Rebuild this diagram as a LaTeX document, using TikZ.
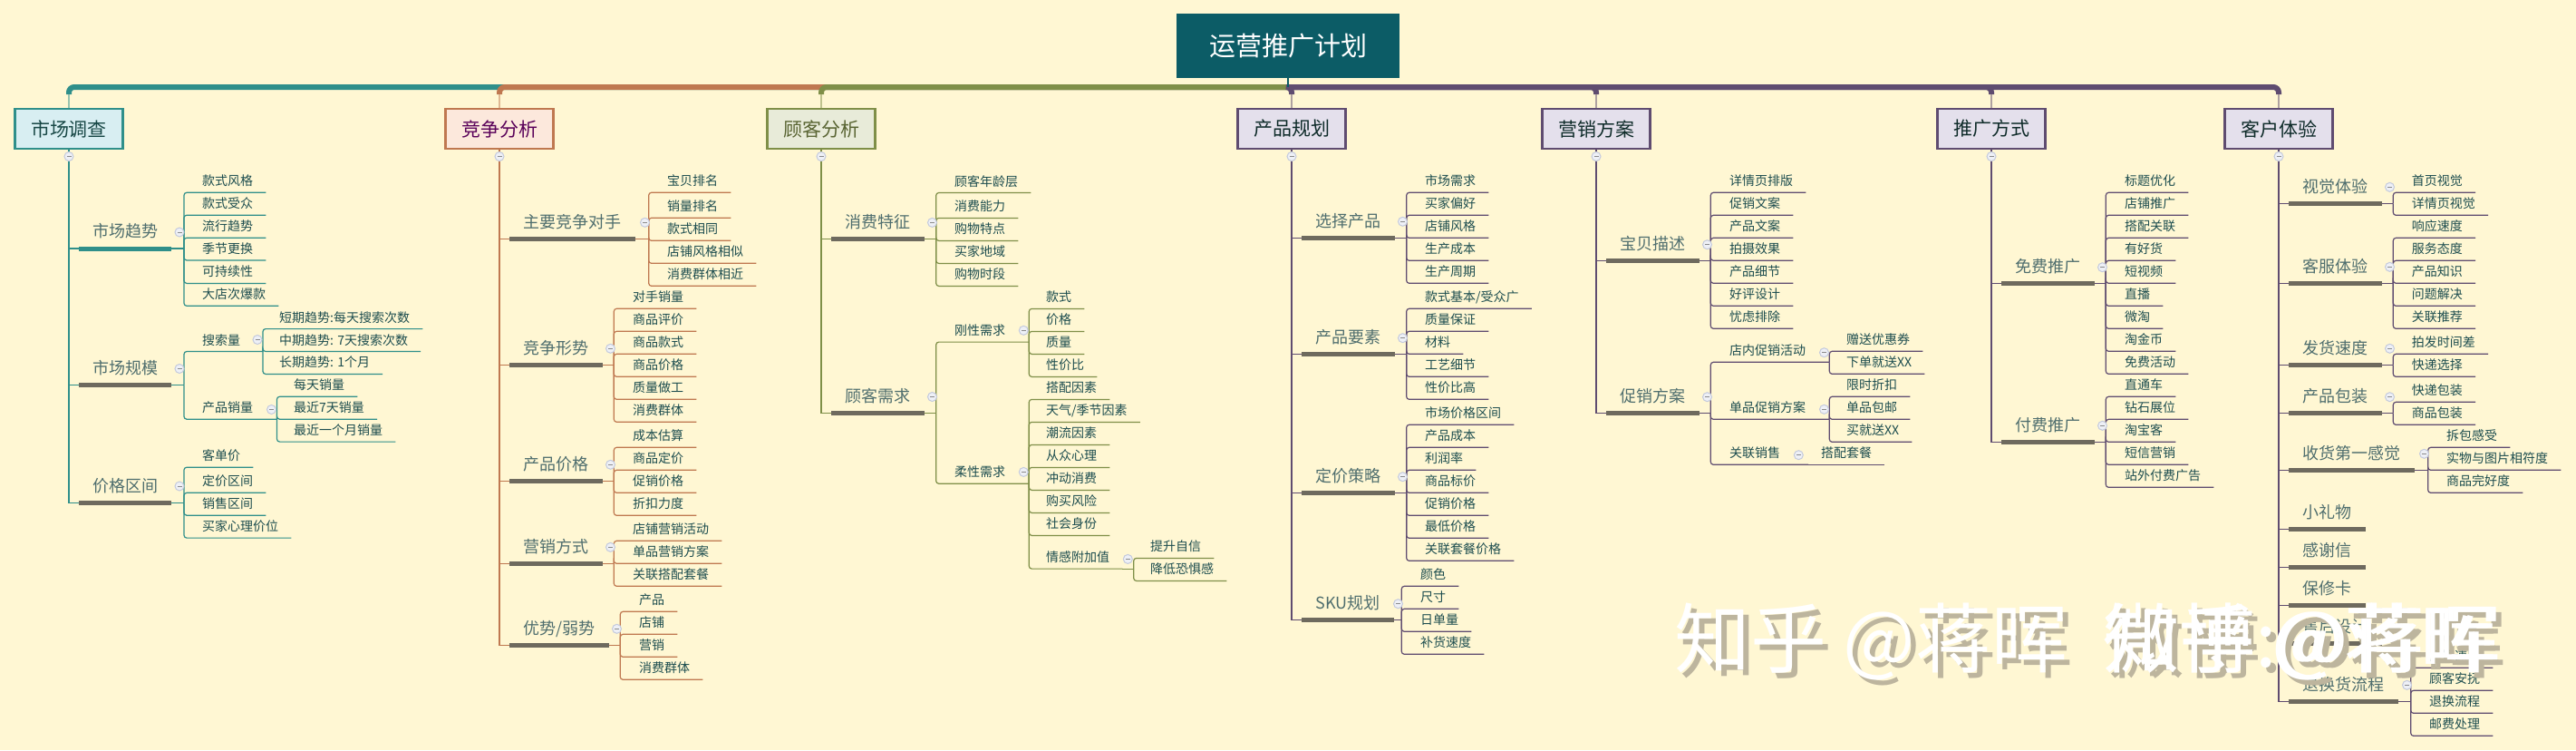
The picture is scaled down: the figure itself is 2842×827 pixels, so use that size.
\documentclass[tikz,border=0pt]{standalone}
\usepackage{fontspec}
\setmainfont{Noto Sans CJK SC}

\definecolor{paper}{HTML}{FFF7D3}
\definecolor{rootfill}{HTML}{0C5C66}
\definecolor{leaftext}{HTML}{1D4D4F}
\definecolor{midtext}{HTML}{4F6E6E}
\definecolor{barcol}{HTML}{6E6A5E}
\definecolor{cteal}{HTML}{2F8F8A}
\definecolor{corange}{HTML}{BF7850}
\definecolor{cgreen}{HTML}{7F8F48}
\definecolor{cpurple}{HTML}{5F4C70}
\definecolor{fteal}{HTML}{D8EEF2}
\definecolor{forange}{HTML}{FCE8DC}
\definecolor{fgreen}{HTML}{E8EBD9}
\definecolor{fpurple}{HTML}{E4E0EC}
\definecolor{foldline}{HTML}{C4CADD}
\definecolor{foldfill}{HTML}{EEF0F6}
\definecolor{wshade}{HTML}{BDB59E}

\tikzset{
    rootnode/.style={fill=rootfill, text=white, minimum width=246pt, minimum height=71pt, font=\fontsize{29}{32}\selectfont},
    topnode/.style={draw, line width=2.5pt, minimum width=119pt, minimum height=44pt, font=\fontsize{21}{24}\selectfont},
    midnode/.style={anchor=south west, inner xsep=15pt, inner ysep=8pt, text height=14.5pt, text depth=4pt, text=midtext, font=\fontsize{18}{20}\selectfont},
    leaf/.style={anchor=south west, inner xsep=14pt, inner ysep=4.3pt, text height=12pt, text depth=3pt, text=leaftext, font=\fontsize{14}{16}\selectfont},
    fold/.style={circle, draw=foldline, fill=foldfill, line width=1pt, minimum size=10pt, inner sep=0pt,
        path picture={\draw[black!45, line width=0.9pt] ([xshift=2.5pt]path picture bounding box.west) -- ([xshift=-2.5pt]path picture bounding box.east);}},
    bus/.style={line width=6pt, rounded corners=6pt},
    stem/.style={line width=2.6pt},
    bar/.style={line width=5pt, barcol},
    link/.style={line width=1.2pt, rounded corners=3pt},
    wmark/.style={font=\fontsize{84}{90}\selectfont, inner sep=0pt, anchor=west},
}

\begin{document}
\begin{tikzpicture}[x=1pt, y=-1pt]
    \useasboundingbox (0,0) rectangle (2842,827);
    \fill[paper] (0,0) rectangle (2842,827);

    \node[rootnode] (R) at (1421,50.5) {运营推广计划};
    \node[topnode, draw=cteal, fill=fteal, text=cteal!50!black] (T1) at (76,142) {市场调查};
    \node[topnode, draw=corange, fill=forange, text=violet!70!black] (T2) at (551,142) {竞争分析};
    \node[topnode, draw=cgreen, fill=fgreen, text=cgreen!70!black] (T3) at (906,142) {顾客分析};
    \node[topnode, draw=cpurple, fill=fpurple, text=cteal!30!black] (T4) at (1425,142) {产品规划};
    \node[topnode, draw=cpurple, fill=fpurple, text=cteal!30!black] (T5) at (1761,142) {营销方案};
    \node[topnode, draw=cpurple, fill=fpurple, text=cteal!30!black] (T6) at (2197,142) {推广方式};
    \node[topnode, draw=cpurple, fill=fpurple, text=cteal!30!black] (T7) at (2514,142) {客户体验};

    \coordinate (R0) at (1421,96);
    \foreach \n/\xx/\col in {1/76/cteal, 2/551/corange, 3/906/cgreen, 4/1425/cpurple, 5/1761/cpurple, 6/2197/cpurple, 7/2514/cpurple} {
        \coordinate (S\n) at (\xx,104);
        \draw[bus, \col] (R0) -| (S\n);
        \draw[stem, \col!50!paper] (S\n) -- (T\n);
    }
    \draw[rootfill, line width=1.2pt] (R) -- (R0);

    % market research
    \node[midnode] (A1) at (87,274) {市场趋势};
    \node[midnode] (A2) at (87,424.3) {市场规模};
    \node[midnode] (A3) at (87,554.4) {价格区间};
    \foreach \n/\hub in {1/203, 2/203, 3/203} {
        \coordinate (A\n h) at (\hub,0 |- A\n.south east);
        \draw[link, cteal, rounded corners=0pt] (T1) |- (A\n.south west);
        \draw[link, cteal] (A\n.south east) -- (A\n h);
    }
    \draw[line width=5pt, cteal] (A1.south west) -- (A1.south east);
    \draw[bar] (A2.south west) -- (A2.south east);
    \draw[bar] (A3.south west) -- (A3.south east);
    \foreach \n/\yy/\txt in {1/212.3/款式风格, 2/237.2/款式受众, 3/262.2/流行趋势, 4/287/季节更换, 5/312.4/可持续性, 6/337.3/大店次爆款} {
        \node[leaf] (A1\n) at (209,\yy) {\txt};
        \draw[link, cteal] (A1h) |- (A1\n.south east);
    }
    \node[leaf] (A21) at (209,387.5) {搜索量};
    \node[leaf] (A22) at (209,462.2) {产品销量};
    \coordinate (A21h) at (290,387.5);
    \coordinate (A22h) at (305.5,462.2);
    \draw[link, cteal] (A2h) |- (A21.south east) -- (A21h);
    \draw[link, cteal] (A2h) |- (A22.south east) -- (A22h);
    \foreach \n/\yy/\txt in {1/362.6/短期趋势:每天搜索次数, 2/387.5/中期趋势: 7天搜索次数, 3/412.4/长期趋势: 1个月} {
        \node[leaf] (A21\n) at (294,\yy) {\txt};
        \draw[link, cteal] (A21h) |- (A21\n.south east);
    }
    \foreach \n/\yy/\txt in {1/437.3/每天销量, 2/462.2/最近7天销量, 3/487.1/最近一个月销量} {
        \node[leaf] (A22\n) at (310,\yy) {\txt};
        \draw[link, cteal] (A22h) |- (A22\n.south east);
    }
    \foreach \n/\yy/\txt in {1/515.2/客单价, 2/543.3/定价区间, 3/568.2/销售区间, 4/593.1/买家心理价位} {
        \node[leaf] (A3\n) at (209,\yy) {\txt};
        \draw[link, cteal] (A3h) |- (A3\n.south east);
    }

    % rivals
    \foreach \n/\yy/\hub/\txt in {1/263.3/715.7/主要竞争对手, 2/402.3/677.3/竞争形势, 3/530.3/677.3/产品价格, 4/621.3/677.3/营销方式, 5/711.3/684.3/{优势/弱势}} {
        \node[midnode] (B\n) at (562.3,\yy) {\txt};
        \coordinate (B\n h) at (\hub,\yy);
        \draw[link, corange, rounded corners=0pt] (T2) |- (B\n.south west);
        \draw[link, corange] (B\n.south east) -- (B\n h);
        \draw[bar] (B\n.south west) -- (B\n.south east);
    }
    \foreach \n/\yy/\txt in {1/212.3/宝贝排名, 2/240.3/销量排名, 3/265.3/款式相同, 4/290.3/店铺风格相似, 5/315.3/消费群体相近} {
        \node[leaf] (B1\n) at (722,\yy) {\txt};
        \draw[link, corange] (B1h) |- (B1\n.south east);
    }
    \foreach \n/\yy/\txt in {1/340.3/对手销量, 2/365.3/商品评价, 3/390.3/商品款式, 4/415.3/商品价格, 5/440.3/质量做工, 6/465.3/消费群体} {
        \node[leaf] (B2\n) at (684,\yy) {\txt};
        \draw[link, corange] (B2h) |- (B2\n.south east);
    }
    \foreach \n/\yy/\txt in {1/493.3/成本估算, 2/518.3/商品定价, 3/543.3/促销价格, 4/568.3/折扣力度} {
        \node[leaf] (B3\n) at (684,\yy) {\txt};
        \draw[link, corange] (B3h) |- (B3\n.south east);
    }
    \foreach \n/\yy/\txt in {1/596.3/店铺营销活动, 2/621.3/单品营销方案, 3/646.3/关联搭配套餐} {
        \node[leaf] (B4\n) at (684,\yy) {\txt};
        \draw[link, corange] (B4h) |- (B4\n.south east);
    }
    \foreach \n/\yy/\txt in {1/674.3/产品, 2/699.3/店铺, 3/724.3/营销, 4/749.3/消费群体} {
        \node[leaf] (B5\n) at (691,\yy) {\txt};
        \draw[link, corange] (B5h) |- (B5\n.south east);
    }

    % customers
    \foreach \n/\yy/\txt in {1/263.2/消费特征, 2/455.4/顾客需求} {
        \node[midnode] (C\n) at (917.3,\yy) {\txt};
        \coordinate (C\n h) at (1032.7,\yy);
        \draw[link, cgreen, rounded corners=0pt] (T3) |- (C\n.south west);
        \draw[link, cgreen] (C\n.south east) -- (C\n h);
        \draw[bar] (C\n.south west) -- (C\n.south east);
    }
    \foreach \n/\yy/\txt in {1/212.5/顾客年龄层, 2/240.4/消费能力, 3/265.4/购物特点, 4/290.4/买家地域, 5/315.4/购物时段} {
        \node[leaf] (C1\n) at (1039,\yy) {\txt};
        \draw[link, cgreen] (C1h) |- (C1\n.south east);
    }
    \foreach \n/\yy/\txt in {1/377.1/刚性需求, 2/533.2/柔性需求} {
        \node[leaf] (C2\n) at (1039,\yy) {\txt};
        \coordinate (C2\n h) at (1135.3,\yy);
        \draw[link, cgreen] (C2h) |- (C2\n.south east) -- (C2\n h);
    }
    \foreach \n/\yy/\txt in {1/340.4/款式, 2/365.4/价格, 3/390.4/质量, 4/415.4/性价比} {
        \node[leaf] (C21\n) at (1140,\yy) {\txt};
        \draw[link, cgreen] (C21h) |- (C21\n.south east);
    }
    \foreach \n/\yy/\txt in {1/440.4/搭配因素, 2/465.4/{天气/季节因素}, 3/490.4/潮流因素, 4/515.4/从众心理, 5/540.4/冲动消费, 6/565.4/购买风险, 7/590.4/社会身份, 8/627.1/情感附加值} {
        \node[leaf] (C22\n) at (1140,\yy) {\txt};
        \draw[link, cgreen] (C22h) |- (C22\n.south east);
    }
    \coordinate (C228h) at (1250.7,627.1);
    \draw[link, cgreen] (C228.south east) -- (C228h);
    \foreach \n/\yy/\txt in {1/615.4/提升自信, 2/640.4/降低恐惧感} {
        \node[leaf] (C228\n) at (1255,\yy) {\txt};
        \draw[link, cgreen] (C228h) |- (C228\n.south east);
    }

    % product planning
    \foreach \n/\yy/\hub/\txt in {1/262.3/1551.7/选择产品, 2/390.3/1551.7/产品要素, 3/543.3/1551.7/定价策略, 4/683.3/1546.3/SKU规划} {
        \node[midnode] (D\n) at (1436.3,\yy) {\txt};
        \coordinate (D\n h) at (\hub,\yy);
        \draw[link, cpurple, rounded corners=0pt] (T4) |- (D\n.south west);
        \draw[link, cpurple] (D\n.south east) -- (D\n h);
        \draw[bar] (D\n.south west) -- (D\n.south east);
    }
    \foreach \n/\yy/\txt in {1/212.3/市场需求, 2/237.3/买家偏好, 3/262.3/店铺风格, 4/287.3/生产成本, 5/312.3/生产周期} {
        \node[leaf] (D1\n) at (1558,\yy) {\txt};
        \draw[link, cpurple] (D1h) |- (D1\n.south east);
    }
    \foreach \n/\yy/\txt in {1/340.3/{款式基本/受众广}, 2/365.3/质量保证, 3/390.3/材料, 4/415.3/工艺细节, 5/440.3/性价比高} {
        \node[leaf] (D2\n) at (1558,\yy) {\txt};
        \draw[link, cpurple] (D2h) |- (D2\n.south east);
    }
    \foreach \n/\yy/\txt in {1/468.3/市场价格区间, 2/493.3/产品成本, 3/518.3/利润率, 4/543.3/商品标价, 5/568.3/促销价格, 6/593.3/最低价格, 7/618.3/关联套餐价格} {
        \node[leaf] (D3\n) at (1558,\yy) {\txt};
        \draw[link, cpurple] (D3h) |- (D3\n.south east);
    }
    \foreach \n/\yy/\txt in {1/646.3/颜色, 2/671.3/尺寸, 3/696.3/日单量, 4/721.3/补货速度} {
        \node[leaf] (D4\n) at (1553,\yy) {\txt};
        \draw[link, cpurple] (D4h) |- (D4\n.south east);
    }

    % marketing
    \foreach \n/\yy/\txt in {1/287.3/宝贝描述, 2/455.3/促销方案} {
        \node[midnode] (E\n) at (1772.3,\yy) {\txt};
        \coordinate (E\n h) at (1887.3,\yy);
        \draw[link, cpurple, rounded corners=0pt] (T5) |- (E\n.south west);
        \draw[link, cpurple] (E\n.south east) -- (E\n h);
        \draw[bar] (E\n.south west) -- (E\n.south east);
    }
    \foreach \n/\yy/\txt in {1/212.3/详情页排版, 2/237.3/促销文案, 3/262.3/产品文案, 4/287.3/拍摄效果, 5/312.3/产品细节, 6/337.3/好评设计, 7/362.3/忧虑排除} {
        \node[leaf] (E1\n) at (1894,\yy) {\txt};
        \draw[link, cpurple] (E1h) |- (E1\n.south east);
    }
    \foreach \n/\yy/\hub/\txt in {1/399.3/2018.3/店内促销活动, 2/462.3/2018.3/单品促销方案, 3/512.3/1995/关联销售} {
        \node[leaf] (E2\n) at (1894,\yy) {\txt};
        \coordinate (E2\n h) at (\hub,\yy);
        \draw[link, cpurple] (E2h) |- (E2\n.south east) -- (E2\n h);
    }
    \foreach \n/\yy/\txt in {1/387.3/赠送优惠券, 2/412.3/下单就送XX} {
        \node[leaf] (E21\n) at (2023,\yy) {\txt};
        \draw[link, cpurple] (E21h) |- (E21\n.south east);
    }
    \foreach \n/\yy/\txt in {1/437.3/限时折扣, 2/462.3/单品包邮, 3/487.3/买就送XX} {
        \node[leaf] (E22\n) at (2023,\yy) {\txt};
        \draw[link, cpurple] (E22h) |- (E22\n.south east);
    }
    \node[leaf] (E231) at (1995,512.3) {搭配套餐};
    \draw[link, cpurple] (E23h) -- (E231.south east);

    % promotion
    \foreach \n/\yy/\txt in {1/312.3/免费推广, 2/487.3/付费推广} {
        \node[midnode] (F\n) at (2208.3,\yy) {\txt};
        \coordinate (F\n h) at (2323.3,\yy);
        \draw[link, cpurple, rounded corners=0pt] (T6) |- (F\n.south west);
        \draw[link, cpurple] (F\n.south east) -- (F\n h);
        \draw[bar] (F\n.south west) -- (F\n.south east);
    }
    \foreach \n/\yy/\txt in {1/212.3/标题优化, 2/237.3/店铺推广, 3/262.3/搭配关联, 4/287.3/有好货, 5/312.3/短视频, 6/337.3/直播, 7/362.3/微淘, 8/387.3/淘金币, 9/412.3/免费活动} {
        \node[leaf] (F1\n) at (2330,\yy) {\txt};
        \draw[link, cpurple] (F1h) |- (F1\n.south east);
    }
    \foreach \n/\yy/\txt in {1/437.3/直通车, 2/462.3/钻石展位, 3/487.3/淘宝客, 4/512.3/短信营销, 5/537.3/站外付费广告} {
        \node[leaf] (F2\n) at (2330,\yy) {\txt};
        \draw[link, cpurple] (F2h) |- (F2\n.south east);
    }

    % customer experience
    \foreach \n/\yy/\hub/\txt in {1/224.3/2640.3/视觉体验, 2/312.3/2640.3/客服体验, 3/402.3/2640.3/发货速度, 4/455.3/2640.3/产品包装, 5/518.3/2678.7/收货第一感觉, 6/773.3/2659.7/退换货流程} {
        \node[midnode] (G\n) at (2525.3,\yy) {\txt};
        \coordinate (G\n h) at (\hub,\yy);
        \draw[link, cpurple, rounded corners=0pt] (T7) |- (G\n.south west);
        \draw[link, cpurple] (G\n.south east) -- (G\n h);
        \draw[bar] (G\n.south west) -- (G\n.south east);
    }
    \foreach \n/\yy/\txt in {7/583.3/小礼物, 8/625.3/感谢信, 9/667.3/保修卡, 10/709.3/售后设计} {
        \node[midnode] (G\n) at (2525.3,\yy) {\txt};
        \draw[link, cpurple, rounded corners=0pt] (T7) |- (G\n.south west);
        \draw[bar] (G\n.south west) -- (G\n.south east);
    }
    \foreach \n/\yy/\txt in {1/212.3/首页视觉, 2/237.3/详情页视觉} {
        \node[leaf] (G1\n) at (2646.7,\yy) {\txt};
        \draw[link, cpurple] (G1h) |- (G1\n.south east);
    }
    \foreach \n/\yy/\txt in {1/262.3/响应速度, 2/287.3/服务态度, 3/312.3/产品知识, 4/337.3/问题解决, 5/362.3/关联推荐} {
        \node[leaf] (G2\n) at (2646.7,\yy) {\txt};
        \draw[link, cpurple] (G2h) |- (G2\n.south east);
    }
    \foreach \n/\yy/\txt in {1/390.3/拍发时间差, 2/415.3/快递选择} {
        \node[leaf] (G3\n) at (2646.7,\yy) {\txt};
        \draw[link, cpurple] (G3h) |- (G3\n.south east);
    }
    \foreach \n/\yy/\txt in {1/443.3/快递包装, 2/468.3/商品包装} {
        \node[leaf] (G4\n) at (2646.7,\yy) {\txt};
        \draw[link, cpurple] (G4h) |- (G4\n.south east);
    }
    \foreach \n/\yy/\txt in {1/493.3/拆包感受, 2/518.3/实物与图片相符度, 3/543.3/商品完好度} {
        \node[leaf] (G5\n) at (2685,\yy) {\txt};
        \draw[link, cpurple] (G5h) |- (G5\n.south east);
    }
    \foreach \n/\yy/\txt in {1/736.3/反馈速度, 2/761.3/顾客安抚, 3/786.3/退换流程, 4/811.3/邮费处理} {
        \node[leaf] (G6\n) at (2666,\yy) {\txt};
        \draw[link, cpurple] (G6h) |- (G6\n.south east);
    }

    \foreach \n/\xx/\yy in {T1/76/172.5, T2/551/172.5, T3/906/172.5, T4/1425/172.5, T5/1761/172.5, T6/2197/172.5, T7/2514/172.5,
        A1/198/256, A2/198/406.5, A3/198/536, A21/284/374.5, A22/299.5/451.5,
        B1/711.5/245.3, B2/673.5/384.3, B3/673.5/512.3, B4/673.5/603.3, B5/680.5/693.3,
        C1/1028.5/245.4, C2/1028.5/437.5, C21/1129.3/364.3, C22/1129.3/520.4, C228/1244.3/616.4,
        D1/1547.5/244.3, D2/1547.5/372.7, D3/1547.5/525.7, D4/1542.5/665.7,
        E1/1883.5/269.7, E2/1883.5/437.7, E21/2012.5/388.7, E22/2012.5/451.3, E23/1984.3/501.7,
        F1/2319.5/294.7, F2/2319.5/469.3,
        G1/2636.5/206.3, G2/2636.5/294.3, G3/2636.5/384.3, G4/2636.5/437.7, G5/2674.5/500.3, G6/2655.5/755.3} {
        \node[fold] (fold\n) at (\xx,\yy) {};
    }

    \foreach \n/\xx/\txt in {1/1847/知乎 @蒋晖, 2/2320/微博:@蒋晖, 3/2320/知乎 @蒋晖} {
        \node[wmark, text=wshade] (wshadow\n) at (\xx+6,713) {\txt};
    }
    \foreach \n/\xx/\txt in {1/1847/知乎 @蒋晖, 2/2320/微博:@蒋晖, 3/2320/知乎 @蒋晖} {
        \node[wmark, text=white] (wmark\n) at (\xx,707) {\txt};
    }
\end{tikzpicture}
\end{document}
